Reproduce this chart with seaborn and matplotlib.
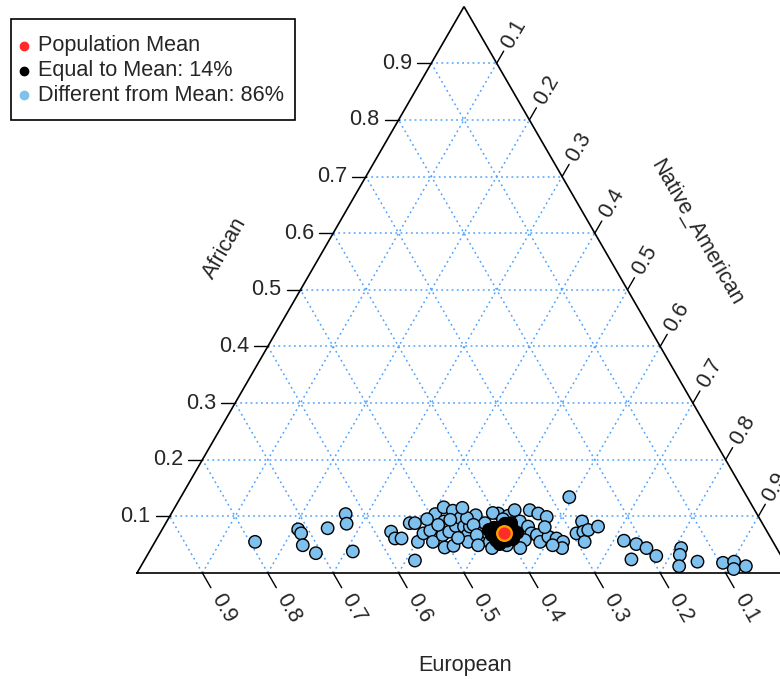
import numpy as np
import pandas as pd
import matplotlib
matplotlib.use("Agg")
import matplotlib.pyplot as plt
from matplotlib.patches import Rectangle
import seaborn as sns

sns.set_theme(style="white")
plt.rcParams["font.family"] = ["Liberation Sans", "DejaVu Sans"]

# Ancestry proportions of individuals that differ from the population mean
diff_european = [0.792, 0.715, 0.714, 0.722, 0.709, 0.669, 0.629, 0.636, 0.651, 0.575,
                 0.575, 0.565, 0.539, 0.531, 0.564, 0.543, 0.527, 0.514, 0.520, 0.492,
                 0.473, 0.485, 0.499, 0.507, 0.486, 0.492, 0.462, 0.471, 0.457, 0.459,
                 0.461, 0.466, 0.450, 0.431, 0.443, 0.448, 0.424, 0.428, 0.433, 0.447,
                 0.443, 0.447, 0.454, 0.395, 0.382, 0.367, 0.369, 0.361, 0.344, 0.334,
                 0.324, 0.362, 0.355, 0.356, 0.339, 0.328, 0.321, 0.328, 0.272, 0.293,
                 0.274, 0.281, 0.288, 0.272, 0.254, 0.391, 0.410, 0.378, 0.403, 0.227,
                 0.211, 0.199, 0.191, 0.232, 0.146, 0.154, 0.165, 0.133, 0.095, 0.077,
                 0.084, 0.063, 0.478, 0.445, 0.497, 0.435, 0.392, 0.340, 0.336, 0.509,
                 0.474, 0.393]
diff_african = [0.055, 0.077, 0.070, 0.049, 0.035, 0.079, 0.104, 0.087, 0.038, 0.073,
                0.061, 0.061, 0.088, 0.088, 0.022, 0.055, 0.070, 0.075, 0.055, 0.104,
                0.116, 0.091, 0.067, 0.045, 0.073, 0.048, 0.110, 0.083, 0.097, 0.082,
                0.067, 0.055, 0.082, 0.102, 0.070, 0.055, 0.088, 0.070, 0.055, 0.097,
                0.085, 0.067, 0.049, 0.105, 0.101, 0.111, 0.091, 0.082, 0.111, 0.105,
                0.099, 0.070, 0.067, 0.055, 0.064, 0.061, 0.055, 0.044, 0.134, 0.070,
                0.091, 0.073, 0.055, 0.076, 0.082, 0.058, 0.049, 0.058, 0.106, 0.057,
                0.051, 0.044, 0.030, 0.024, 0.044, 0.032, 0.012, 0.020, 0.018, 0.020,
                0.007, 0.012, 0.062, 0.115, 0.085, 0.044, 0.044, 0.049, 0.081, 0.095,
                0.094, 0.095]
diff_native = [0.153, 0.208, 0.216, 0.229, 0.256, 0.252, 0.267, 0.277, 0.311, 0.352,
               0.364, 0.374, 0.373, 0.381, 0.414, 0.402, 0.403, 0.411, 0.425, 0.404,
               0.411, 0.424, 0.434, 0.448, 0.441, 0.460, 0.428, 0.446, 0.446, 0.459,
               0.472, 0.479, 0.468, 0.467, 0.487, 0.497, 0.488, 0.502, 0.512, 0.456,
               0.472, 0.486, 0.497, 0.500, 0.517, 0.522, 0.540, 0.557, 0.545, 0.561,
               0.577, 0.568, 0.578, 0.589, 0.597, 0.611, 0.624, 0.628, 0.594, 0.637,
               0.635, 0.646, 0.657, 0.652, 0.664, 0.551, 0.541, 0.564, 0.491, 0.716,
               0.738, 0.757, 0.779, 0.744, 0.810, 0.814, 0.823, 0.847, 0.887, 0.903,
               0.909, 0.925, 0.460, 0.440, 0.418, 0.521, 0.564, 0.611, 0.583, 0.396,
               0.432, 0.512]

# Individuals equal to the population mean
equal_european = [0.414, 0.417, 0.420, 0.394, 0.387, 0.395, 0.406, 0.424, 0.383, 0.406,
                  0.398, 0.405, 0.422, 0.384, 0.424]
equal_african = [0.080, 0.064, 0.051, 0.087, 0.078, 0.060, 0.057, 0.067, 0.071, 0.080,
                 0.067, 0.074, 0.057, 0.088, 0.076]
equal_native = [0.506, 0.519, 0.529, 0.519, 0.535, 0.545, 0.537, 0.509, 0.546, 0.514,
                0.535, 0.521, 0.521, 0.528, 0.500]

# Population mean
mean_european = [0.403]
mean_african = [0.071]
mean_native = [0.526]

tick_values = [0.1, 0.2, 0.3, 0.4, 0.5, 0.6, 0.7, 0.8, 0.9]
tick_labels = ["0.1", "0.2", "0.3", "0.4", "0.5", "0.6", "0.7", "0.8", "0.9"]
legend_labels = ["Population Mean", "Equal to Mean: 14%", "Different from Mean: 86%"]
legend_colors = ["#FF2A2A", "black", "#7EC0EE"]

SQ3 = np.sqrt(3) / 2


def to_xy(african, native):
    a = np.asarray(african, dtype=float)
    n = np.asarray(native, dtype=float)
    return n + a / 2, a * SQ3


def frame(eur, afr, nat, group):
    x, y = to_xy(afr, nat)
    return pd.DataFrame({"European": eur, "African": afr, "Native_American": nat,
                         "x": x, "y": y, "group": group})


df = pd.concat([frame(diff_european, diff_african, diff_native, "diff"),
                frame(equal_european, equal_african, equal_native, "equal")],
               ignore_index=True)
mean_df = frame(mean_european, mean_african, mean_native, "mean")

W, H = 780, 679
PX = 654.0      # pixels per unit of triangle side
OX, OY = 137, 573  # pixel position of the bottom-left corner


def px(xp, yp):
    """Pixel position (from top-left) to data coordinates."""
    return (xp - OX) / PX, (OY - yp) / PX


fig = plt.figure(figsize=(W / 100, H / 100), dpi=100)
ax = fig.add_axes([0, 0, 1, 1])
ax.set_xlim(-OX / PX, (W - OX) / PX)
ax.set_ylim(-(H - OY) / PX, OY / PX)
ax.axis("off")

FS = 15.6
grid_kw = dict(color="#4DA3FF", lw=1.1, ls=(0, (1.2, 2.2)), zorder=1)
for k in tick_values:
    x, y = to_xy([k, k], [0, 1 - k])          # constant African
    ax.plot(x, y, **grid_kw)
    x, y = to_xy([0, 1 - k], [1 - k, 0])      # constant European
    ax.plot(x, y, **grid_kw)
    x, y = to_xy([0, 1 - k], [k, k])          # constant Native_American
    ax.plot(x, y, **grid_kw)

# triangle outline
tx, ty = to_xy([0, 1, 0, 0], [0, 0, 1, 0])
ax.plot(tx, ty, color="black", lw=1.2, zorder=2, solid_joinstyle="miter")

L = 14 / PX
G = 5 / PX
LB = 17 / PX
GB = 9 / PX
for k, lab in zip(tick_values, tick_labels):
    # African axis (left edge)
    x0, y0 = to_xy(k, 0)
    ax.plot([x0 - L, x0], [y0, y0], color="black", lw=1)
    ax.text(x0 - L - G, y0, lab, ha="right", va="center", fontsize=FS)
    # European axis (bottom edge)
    x0, y0 = to_xy(0, 1 - k)
    ax.plot([x0, x0 + LB * 0.5], [y0, y0 - LB * SQ3], color="black", lw=1)
    ax.text(x0 + (LB + GB) * 0.5, y0 - (LB + GB) * SQ3, lab, rotation=-60,
            rotation_mode="anchor", ha="left", va="center", fontsize=FS)
    # Native_American axis (right edge)
    x0, y0 = to_xy(1 - k, k)
    ax.plot([x0, x0 + L * 0.5], [y0, y0 + L * SQ3], color="black", lw=1)
    ax.text(x0 + (L + G) * 0.5, y0 + (L + G) * SQ3, lab, rotation=60,
            rotation_mode="anchor", ha="left", va="center", fontsize=FS)

# axis titles
ax.text(*px(225, 248), "African", rotation=60, ha="center", va="center", fontsize=FS)
ax.text(*px(697, 232), "Native_American", rotation=-60,
        ha="center", va="center", fontsize=FS)
ax.text(*px(465, 665), "European", ha="center", va="center", fontsize=FS)

palette = {"diff": "#7EC0EE", "equal": "black"}
sns.scatterplot(data=df, x="x", y="y", hue="group", palette=palette,
                s=80, edgecolor="black", linewidth=1.0, legend=False,
                ax=ax, zorder=3)
sns.scatterplot(data=mean_df, x="x", y="y", color="#FF2A2A", s=110,
                edgecolor="#FFA000", linewidth=1.7, legend=False, ax=ax, zorder=4)

# legend box
x0, y0 = px(11, 120)
x1, y1 = px(295, 19)
ax.add_patch(Rectangle((x0, y0), x1 - x0, y1 - y0, facecolor="white",
                       edgecolor="black", lw=1.2, zorder=5))
for row, (lab, col) in enumerate(zip(legend_labels, legend_colors)):
    yp = 46 + row * 24.7
    ax.plot(*px(24, yp), marker="o", ls="", color=col, markersize=6, zorder=6)
    ax.text(*px(38, yp), lab, ha="left", va="center", fontsize=FS, zorder=6)

fig.savefig("out.png", dpi=100)
